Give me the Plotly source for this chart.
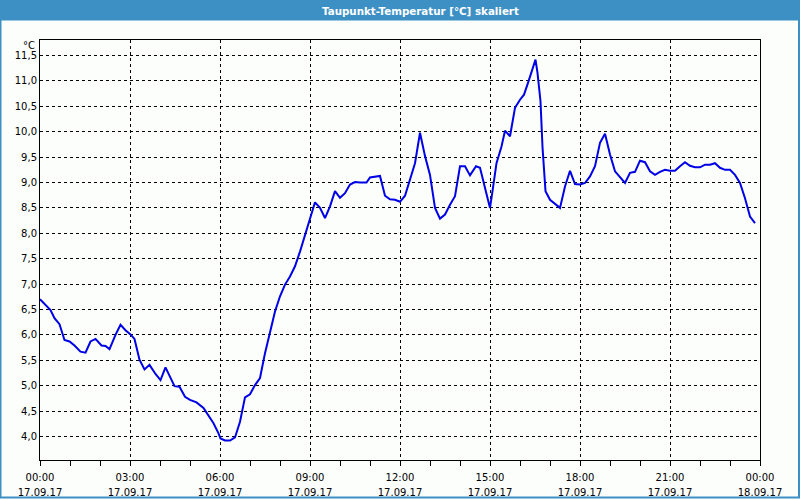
import plotly.graph_objects as go

# time in minutes after 17.09.17 00:00, dew point in °C
minutes = [0, 12, 21, 29, 39, 49, 59, 69, 81, 91, 101, 111, 123, 131, 139, 151, 161, 171, 181, 189,
           199, 209, 219, 231, 241, 251, 259, 269, 279, 290, 300, 313, 327, 337, 347, 357, 361, 370, 380, 390,
           400, 410, 420, 430, 440, 450, 460, 470, 480, 490, 500, 510, 520, 530, 540, 550, 560, 570, 580, 590,
           600, 610, 620, 630, 640, 653, 660, 670, 680, 690, 700, 710, 720, 730, 740, 750, 760, 770, 780, 790,
           800, 810, 820, 830, 840, 850, 860, 872, 880, 890, 900, 905, 913, 923, 930, 940, 950, 960, 968, 977,
           983, 991, 995, 1001, 1005, 1011, 1020, 1030, 1040, 1050, 1060, 1070, 1080, 1090, 1100, 1110, 1120, 1130, 1140, 1150,
           1160, 1170, 1180, 1190, 1200, 1210, 1220, 1230, 1240, 1250, 1260, 1270, 1280, 1290, 1300, 1310, 1320, 1330, 1340, 1350,
           1360, 1370, 1380, 1390, 1400, 1410, 1420, 1430]
taupunkt = [6.70, 6.59, 6.49, 6.33, 6.21, 5.90, 5.87, 5.79, 5.67, 5.65, 5.87, 5.92, 5.79, 5.78, 5.72, 6.00, 6.20, 6.09, 6.01, 5.92,
            5.51, 5.32, 5.41, 5.23, 5.11, 5.36, 5.19, 4.99, 4.98, 4.78, 4.72, 4.67, 4.56, 4.42, 4.26, 4.06, 3.96, 3.92, 3.92, 3.98,
            4.29, 4.77, 4.83, 5.01, 5.15, 5.64, 6.07, 6.46, 6.76, 6.99, 7.15, 7.35, 7.64, 7.97, 8.33, 8.61, 8.50, 8.30, 8.53, 8.83,
            8.70, 8.79, 8.96, 9.01, 9.00, 9.00, 9.10, 9.11, 9.13, 8.74, 8.67, 8.66, 8.62, 8.74, 9.06, 9.38, 9.98, 9.52, 9.15, 8.50,
            8.29, 8.37, 8.56, 8.73, 9.32, 9.32, 9.14, 9.32, 9.29, 8.92, 8.50, 8.83, 9.38, 9.71, 10.02, 9.91, 10.47, 10.63, 10.73, 10.99,
            11.19, 11.42, 11.16, 10.60, 9.70, 8.83, 8.66, 8.58, 8.50, 8.92, 9.23, 8.97, 8.96, 8.99, 9.12, 9.32, 9.78, 9.96, 9.55, 9.22,
            9.11, 8.99, 9.19, 9.21, 9.43, 9.40, 9.22, 9.15, 9.21, 9.25, 9.23, 9.23, 9.32, 9.40, 9.33, 9.30, 9.30, 9.35, 9.35, 9.38,
            9.29, 9.25, 9.25, 9.15, 8.99, 8.69, 8.33, 8.20]

x_tickvals = [0, 180, 360, 540, 720, 900, 1080, 1260, 1440]
x_time_labels = ["00:00", "03:00", "06:00", "09:00", "12:00", "15:00", "18:00", "21:00", "00:00"]
x_date_labels = ["17.09.17", "17.09.17", "17.09.17", "17.09.17", "17.09.17", "17.09.17",
                 "17.09.17", "17.09.17", "18.09.17"]
y_tickvals = [4.0, 4.5, 5.0, 5.5, 6.0, 6.5, 7.0, 7.5, 8.0, 8.5, 9.0, 9.5, 10.0, 10.5, 11.0, 11.5]
y_ticktext = ["4,0", "4,5", "5,0", "5,5", "6,0", "6,5", "7,0", "7,5", "8,0", "8,5", "9,0", "9,5",
              "10,0", "10,5", "11,0", "11,5"]

FONT = "DejaVu Sans"
BG = "#fcfefc"
BLUE_BAR = "#3c90c4"

fig = go.Figure()
fig.add_trace(go.Scatter(x=minutes, y=taupunkt, mode="lines",
                         line=dict(color="#0000e6", width=2), hoverinfo="skip"))
# invisible copies bound to the helper axes (hourly tick marks, time labels, date labels)
for ax in ("x2", "x3", "x4"):
    fig.add_trace(go.Scatter(x=minutes, y=taupunkt, mode="lines", xaxis=ax,
                             line=dict(color="rgba(0,0,0,0)", width=0), hoverinfo="skip",
                             showlegend=False))

helper = dict(range=[0, 1440], overlaying="x", anchor="y", side="bottom",
              showgrid=False, showline=False, zeroline=False, automargin=False)

fig.update_layout(
    width=800, height=500,
    margin=dict(l=40, r=40, t=40, b=40, autoexpand=False),
    paper_bgcolor=BG, plot_bgcolor=BG,
    showlegend=False,
    font=dict(family=FONT, size=10, color="#000000"),
    xaxis=dict(range=[0, 1440], tickvals=x_tickvals, showticklabels=False,
               showgrid=True, gridcolor="#000000", gridwidth=1, griddash="3px,3px",
               showline=True, linecolor="#000000", linewidth=1, mirror=True,
               ticks="", zeroline=False, automargin=False),
    xaxis2=dict(helper, tick0=0, dtick=60, ticks="outside", ticklen=5, tickcolor="#000000",
                showticklabels=False),
    xaxis3=dict(helper, tickvals=x_tickvals, ticktext=x_time_labels,
                ticks="outside", ticklen=8, tickcolor="rgba(0,0,0,0)",
                tickfont=dict(family=FONT, size=10)),
    xaxis4=dict(helper, tickvals=x_tickvals, ticktext=x_date_labels,
                ticks="outside", ticklen=23, tickcolor="rgba(0,0,0,0)",
                tickfont=dict(family=FONT, size=10)),
    yaxis=dict(range=[3.536, 11.806], tickvals=y_tickvals, ticktext=y_ticktext,
               showgrid=True, gridcolor="#000000", gridwidth=1, griddash="3px,3px",
               showline=True, linecolor="#000000", linewidth=1, mirror=True, automargin=False,
               ticks="", zeroline=False, tickfont=dict(family=FONT, size=10)),
    shapes=[
        dict(type="rect", xref="paper", yref="paper",
             x0=-40/720, x1=760/720, y0=(460-20.5)/420, y1=460/420,
             fillcolor=BLUE_BAR, line=dict(width=0), layer="above"),
        dict(type="rect", xref="paper", yref="paper",
             x0=-39.5/720, x1=759/720, y0=(460-497.5)/420, y1=460/420,
             fillcolor="rgba(0,0,0,0)", line=dict(color=BLUE_BAR, width=2), layer="above"),
    ],
    annotations=[
        dict(text="<b>Taupunkt-Temperatur [°C] skaliert</b>", xref="paper", yref="paper",
             x=(420-40)/720, y=(460-10.5)/420, xanchor="center", yanchor="middle",
             showarrow=False, font=dict(family=FONT, size=10.3, color="#ffffff")),
        dict(text="°C", xref="paper", yref="paper",
             x=(37-40)/720, y=(460-45.5)/420, xanchor="right", yanchor="middle",
             showarrow=False, font=dict(family=FONT, size=10, color="#000000")),
    ],
)

fig.write_html("out.html", config={"displayModeBar": False},
               post_script="document.body.style.margin='0';document.body.style.padding='0';"
                           "document.documentElement.style.overflow='hidden';")
